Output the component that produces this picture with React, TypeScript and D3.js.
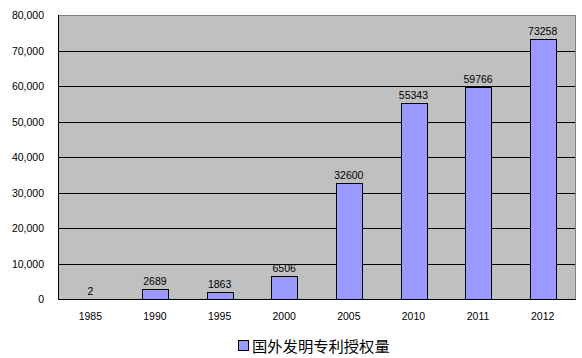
import React from "react";
import * as d3 from "d3";

const categories = ["1985", "1990", "1995", "2000", "2005", "2010", "2011", "2012"];
const values = [2, 2689, 1863, 6506, 32600, 55343, 59766, 73258];
const yTicks = [0, 10000, 20000, 30000, 40000, 50000, 60000, 70000, 80000];
const seriesName = "国外发明专利授权量";

const W = 582, H = 358;
const left = 58, right = 575, top = 15, bottom = 299;
const numFont = "'Liberation Sans', 'DejaVu Sans', sans-serif";

export default function App() {
  const x = d3.scaleBand<string>().domain(categories).range([left, right]).paddingInner(0).paddingOuter(0);
  const y = d3.scaleLinear().domain([0, 80000]).range([bottom, top]);
  const bw = x.bandwidth() * 0.4;
  const fmt = (v: number) => (v === 0 ? "0" : d3.format(",")(v));
  return (
    <svg width={W} height={H} style={{ position: "absolute", left: 0, top: 0, background: "#fff" }}>
      <rect x={left} y={top} width={right - left} height={bottom - top} fill="#C0C0C0" />
      {yTicks.filter((t) => t > 0 && t < 80000).map((t) => (
        <line key={t} x1={left} x2={right} y1={Math.round(y(t)) + 0.5} y2={Math.round(y(t)) + 0.5} stroke="#000" strokeWidth={1} />
      ))}
      <line x1={left} x2={right} y1={top + 0.5} y2={top + 0.5} stroke="#808080" />
      <line x1={right + 0.5} x2={right + 0.5} y1={top} y2={bottom} stroke="#808080" />
      {categories.map((c, i) => {
        const cx = (x(c) as number) + x.bandwidth() / 2;
        const yv = y(values[i]);
        return (
          <g key={c}>
            {values[i] > 100 && (
              <rect x={Math.round(cx - bw / 2) + 0.5} y={Math.round(yv) + 0.5} width={Math.round(bw)} height={bottom - Math.round(yv)} fill="#9999FF" stroke="#000" strokeWidth={1} />
            )}
            <text x={cx} y={yv - 4} textAnchor="middle" fontFamily={numFont} fontSize={10.5} fill="#000">{values[i]}</text>
            <text x={cx} y={320} textAnchor="middle" fontFamily={numFont} fontSize={10.5} fill="#000">{c}</text>
          </g>
        );
      })}
      <line x1={left + 0.5} x2={left + 0.5} y1={top} y2={bottom + 0.5} stroke="#000" />
      <line x1={left} x2={right + 1} y1={bottom + 0.5} y2={bottom + 0.5} stroke="#000" />
      {yTicks.map((t) => (
        <text key={t} x={44} y={y(t) + 4} textAnchor="end" fontFamily={numFont} fontSize={10.5} fill="#000">{fmt(t)}</text>
      ))}
      <rect x={238.5} y={340.5} width={10} height={10} fill="#9999FF" stroke="#000" />
      <text x={252} y={351.5} fontFamily="'Noto Sans CJK SC', sans-serif" fontSize={15.3} fill="#000">{seriesName}</text>
    </svg>
  );
}
